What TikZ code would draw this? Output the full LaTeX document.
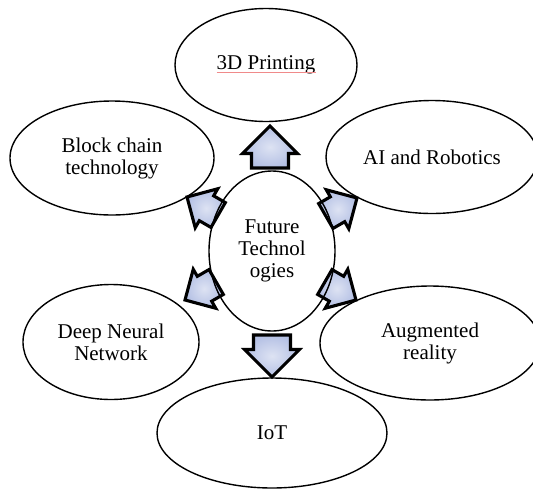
\documentclass[tikz,border=0pt]{standalone}
\usepackage{fontspec}
\setmainfont{Liberation Serif}
\usetikzlibrary{shapes.geometric,shapes.arrows}
\definecolor{arrowfill}{HTML}{B4C0E4}
\definecolor{spellred}{HTML}{F08A8A}
\tikzset{
  topic/.style={draw=black, ellipse, line width=1.4pt, inner sep=0pt,
    align=center, font=\fontsize{21}{22}\selectfont},
  blockarrow/.style={single arrow, draw=black, shade, shading=radial,
    inner color=arrowfill!45!white, outer color=arrowfill,
    line width=3.1pt, line join=miter, text height=0pt, text depth=0pt,
    inner xsep=0pt, anchor=tip, outer sep=0pt},
  bigarrow/.style={blockarrow, inner ysep=13pt, minimum height=42pt,
    minimum width=55pt},
  smallarrow/.style={blockarrow, inner ysep=11pt, minimum height=36pt,
    minimum width=45pt},
}
\begin{document}
\begin{tikzpicture}[x=1pt, y=-1pt]
  \useasboundingbox (0,0) rectangle (533,488);

  % outward arrows around the hub (placed by their tips)
  \node[bigarrow, rotate=90]    (aup)  at (270,126) {};
  \node[bigarrow, rotate=-90]   (adn)  at (272,377) {};
  \node[smallarrow, rotate=150] (aul)  at (187,197) {};
  \node[smallarrow, rotate=30]  (aur)  at (357,198) {};
  \node[smallarrow, rotate=210] (all)  at (185,300) {};
  \node[smallarrow, rotate=-30] (alr)  at (356,300) {};

  % hub and surrounding topics
  \node[topic, minimum width=126pt, minimum height=160pt] (hub) at (272,251)
    {Future\\Technol\\ogies};
  \node[topic, minimum width=182pt, minimum height=113pt] (print) at (266,65)
    {3D Printing};
  \node[topic, minimum width=204pt, minimum height=114pt] (chain) at (112,158)
    {Block chain\\technology};
  \node[topic, minimum width=212pt, minimum height=113pt] (robot) at (432,157)
    {AI and Robotics};
  \node[topic, minimum width=176pt, minimum height=115pt] (dnn) at (111,342)
    {Deep Neural\\Network};
  \node[topic, minimum width=220pt, minimum height=114pt] (ar) at (430,343)
    {Augmented\\reality};
  \node[topic, minimum width=230pt, minimum height=110pt] (iot) at (272,433)
    {IoT};

  % spell-check underline below the top label
  \draw[spellred, line width=0.7pt]
    ([xshift=-49.5pt, yshift=-2.2pt]print.base) -- ([xshift=49.5pt, yshift=-2.2pt]print.base);
\end{tikzpicture}
\end{document}
